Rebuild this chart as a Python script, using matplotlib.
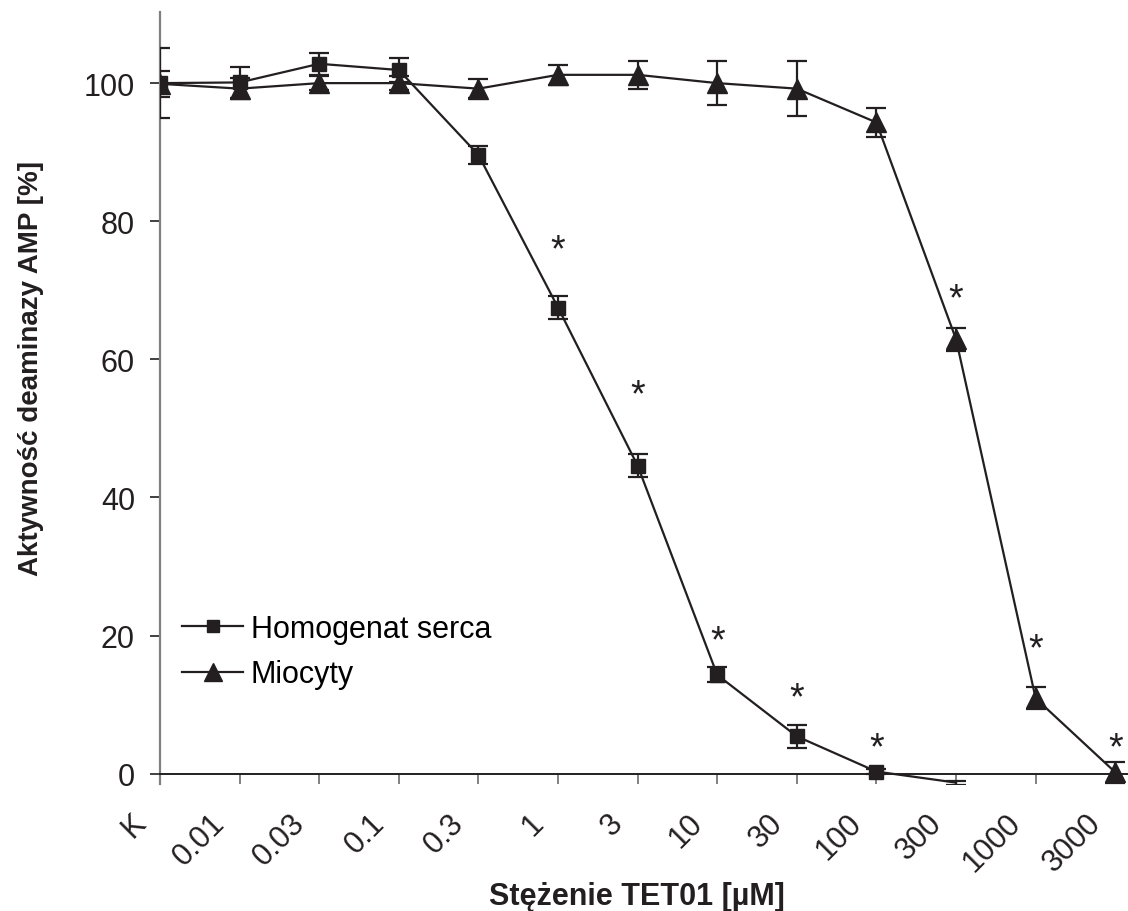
import matplotlib
matplotlib.use("Agg")
import matplotlib.pyplot as plt
import matplotlib.transforms as mtransforms
from matplotlib.lines import Line2D
import numpy as np

plt.rcParams['font.family'] = ['Liberation Sans', 'DejaVu Sans']

# concentrations of TET01 [uM], K = control
conc_labels = ['K', '0.01', '0.03', '0.1', '0.3', '1', '3', '10', '30', '100', '300', '1000', '3000']

# AMP deaminase activity [%] - heart homogenate (no point at 3000 / 1000)
homog_mean = [100.0, 100.1, 102.8, 101.9, 89.6, 67.5, 44.6, 14.3, 5.4, 0.3, -1.3]
homog_err = [5.1, 2.3, 1.6, 1.7, 1.3, 1.6, 1.7, 1.1, 1.7, 0.3, 0.3]

# AMP deaminase activity [%] - cardiomyocytes
mioc_mean = [99.9, 99.2, 100.0, 100.0, 99.2, 101.2, 101.2, 100.0, 99.2, 94.3, 62.9, 10.9, 0.2]
mioc_err = [1.9, 1.5, 1.0, 1.0, 1.4, 1.4, 2.0, 3.2, 4.0, 2.1, 1.7, 1.6, 1.5]

# significance stars: (category index, height in %)
star_idx = [5, 6, 7, 8, 9, 10, 11, 12]
star_y = [77.0, 56.0, 20.3, 12.0, 4.8, 69.9, 19.1, 4.9]

ink = '#231f20'

fig = plt.figure(figsize=(11.28, 9.12), dpi=100)
ax = fig.add_axes([160 / 1128, 1 - 785 / 912, 968 / 1128, 772 / 912])

x = np.arange(len(conc_labels))
xh = x[:len(homog_mean)]

# markers only where the value is inside the plotted range
vis_h = [i for i, v in enumerate(homog_mean) if v >= 0]

ax.errorbar(xh, homog_mean, yerr=homog_err, color=ink, lw=1.6, marker='s', ms=10,
            markevery=vis_h, capsize=7.5, capthick=1.6, elinewidth=1.6, zorder=3)
ax.errorbar(x, mioc_mean, yerr=mioc_err, color=ink, lw=1.6, marker='^', ms=15,
            capsize=7.5, capthick=1.6, elinewidth=1.6, zorder=3)

star_shift = ax.transData + mtransforms.ScaledTranslation(0, -8 / 100, fig.dpi_scale_trans)
for i, h in zip(star_idx, star_y):
    ax.text(x[i], h, '*', ha='center', va='center', fontsize=27, color=ink,
            transform=star_shift)

ax.set_xlim(0, 12.16)
ax.set_ylim(-1.5, 110.3)

ax.spines['top'].set_visible(False)
ax.spines['right'].set_visible(False)
ax.spines['left'].set_color('#808080')
ax.spines['left'].set_linewidth(1.6)
ax.spines['bottom'].set_position(('data', 0))
ax.spines['bottom'].set_color(ink)
ax.spines['bottom'].set_linewidth(1.4)

ax.set_yticks([0, 20, 40, 60, 80, 100])
ax.tick_params(axis='y', direction='out', length=7, width=1.2, color=ink,
               labelsize=22, pad=11, labelcolor=ink)
ax.set_xticks(x)
ax.set_xticklabels(conc_labels)
ax.tick_params(axis='x', direction='out', length=7, width=1.4, color='#808080',
               labelsize=22, pad=25, labelcolor=ink)
shift = mtransforms.ScaledTranslation(-19 / 100, 0, fig.dpi_scale_trans)
for lab in ax.get_xticklabels():
    lab.set_rotation(45)
    lab.set_ha('right')
    lab.set_va('center')
    lab.set_rotation_mode('anchor')
    lab.set_transform(lab.get_transform() + shift)

ax.set_xlabel('Stężenie TET01 [µM]', fontsize=22, fontweight='bold', color=ink,
              va='baseline')
ax.xaxis.set_label_coords(477 / 968, -120 / 772)
ax.set_ylabel('Aktywność deaminazy AMP [%]', fontsize=20, fontweight='bold', color=ink)
ax.yaxis.set_label_coords(-116 / 968, (785 - 368) / 772)

handles = [
    Line2D([], [], color=ink, lw=1.6, marker='s', ms=8),
    Line2D([], [], color=ink, lw=1.6, marker='^', ms=13),
]
ax.legend(handles, ['Homogenat serca', 'Miocyty'], loc='upper left',
          bbox_to_anchor=(22 / 968, (785 - 615) / 772), frameon=False,
          fontsize=22, handlelength=2.0, handletextpad=0.25, labelspacing=0.5,
          borderaxespad=0, borderpad=0)

fig.savefig('out.png', dpi=100)
